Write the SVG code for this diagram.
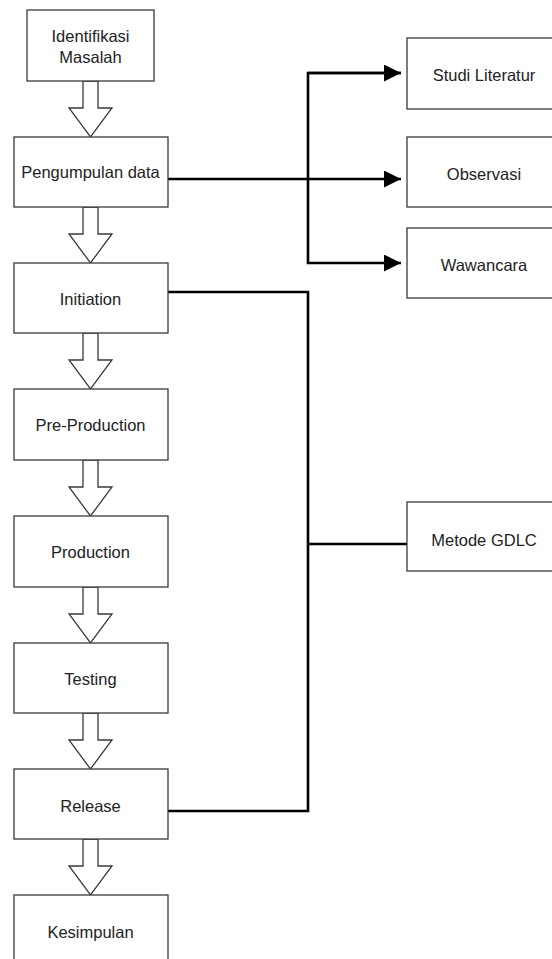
<svg xmlns="http://www.w3.org/2000/svg" width="552" height="959" viewBox="0 0 552 959">
<style>
.box{fill:#fff;stroke:#3a3a3a;stroke-width:1.3}
.lbl{font-family:"Liberation Sans",Arial,sans-serif;font-size:16.5px;fill:#222;text-anchor:middle;dominant-baseline:central}
.conn{fill:none;stroke:#000;stroke-width:2.6}
.ba{fill:#fff;stroke:#3a3a3a;stroke-width:1.3;stroke-linejoin:miter}
</style>
<defs>
<path id="blk" d="M-7.5,0 H7.5 V27 H21.5 L0,56 L-21.5,27 H-7.5 Z"/>
<marker id="ah" markerUnits="userSpaceOnUse" markerWidth="18" markerHeight="17" refX="17" refY="8.5" orient="auto">
<path d="M0,0 L17,8.5 L0,17 Z" fill="#000"/>
</marker>
</defs>
<rect width="552" height="959" fill="#fff"/>
<g id="connectors">
<g class="ba">
<use href="#blk" transform="translate(90.5,81)"/>
<use href="#blk" transform="translate(90.5,207)"/>
<use href="#blk" transform="translate(90.5,333)"/>
<use href="#blk" transform="translate(90.5,460)"/>
<use href="#blk" transform="translate(90.5,587)"/>
<use href="#blk" transform="translate(90.5,713)"/>
<use href="#blk" transform="translate(90.5,839)"/>
</g>
<path class="conn" d="M168,179 H401" marker-end="url(#ah)"/>
<path class="conn" d="M401,73 H308 V263 H401" marker-end="url(#ah)"/>
<path class="conn" d="M308,73 H401" marker-end="url(#ah)"/>
<path class="conn" d="M168,292 H308 V811 H168"/>
<path class="conn" d="M308,544 H407"/>
</g>
<g id="n-identifikasi"><rect class="box" x="27" y="10" width="127" height="71"/><text class="lbl" x="90.5" y="36">Identifikasi</text><text class="lbl" x="90.5" y="57">Masalah</text></g>
<g id="n-pengumpulan"><rect class="box" x="14" y="137" width="154" height="70"/><text class="lbl" x="90.5" y="172">Pengumpulan data</text></g>
<g id="n-initiation"><rect class="box" x="14" y="263" width="154" height="70"/><text class="lbl" x="90.5" y="299">Initiation</text></g>
<g id="n-preproduction"><rect class="box" x="14" y="389" width="154" height="71"/><text class="lbl" x="90.5" y="425">Pre-Production</text></g>
<g id="n-production"><rect class="box" x="14" y="516" width="154" height="71"/><text class="lbl" x="90.5" y="552">Production</text></g>
<g id="n-testing"><rect class="box" x="14" y="643" width="154" height="70"/><text class="lbl" x="90.5" y="679">Testing</text></g>
<g id="n-release"><rect class="box" x="14" y="769" width="154" height="70"/><text class="lbl" x="90.5" y="806">Release</text></g>
<g id="n-kesimpulan"><rect class="box" x="14" y="895" width="154" height="71"/><text class="lbl" x="90.5" y="932">Kesimpulan</text></g>
<g id="n-studi"><rect class="box" x="407" y="38" width="160" height="71"/><text class="lbl" x="484" y="75">Studi Literatur</text></g>
<g id="n-observasi"><rect class="box" x="407" y="137" width="160" height="70"/><text class="lbl" x="484" y="174">Observasi</text></g>
<g id="n-wawancara"><rect class="box" x="407" y="228" width="160" height="70"/><text class="lbl" x="484" y="265">Wawancara</text></g>
<g id="n-gdlc"><rect class="box" x="407" y="502" width="160" height="69"/><text class="lbl" x="484" y="540">Metode GDLC</text></g>
</svg>
